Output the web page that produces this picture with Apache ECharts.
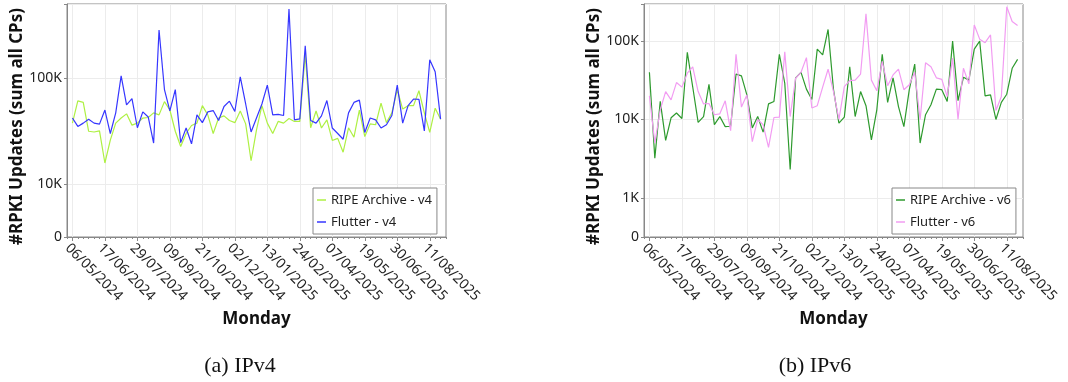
<!DOCTYPE html>
<html>
<head>
<meta charset="utf-8">
<title>RPKI updates per week</title>
<script src="https://cdn.jsdelivr.net/npm/echarts@6/dist/echarts.min.js"></script>
<style>
  html, body { margin: 0; padding: 0; background: #fff; }
  #chart { width: 1068px; height: 382px; }
</style>
</head>
<body>
<div id="chart"></div>
<script>
// Weekly totals of RPKI updates (sum over all collector peers), one value per Monday.
const START_MONDAY = '2024-05-06';
const WEEK_COUNT = 69;

const ripeV4 = [
  37600, 61000, 59000, 31500, 31000, 31800, 15800, 26000, 37600, 42000,
  46000, 36000, 37600, 42000, 42500, 47000, 45000, 60000, 50000, 31500,
  22600, 30000, 35700, 37600, 55000, 45000, 30000, 42000, 44000, 39800,
  38000, 49000, 37000, 16600, 32500, 55000, 37600, 30000, 39000, 37600,
  41600, 39000, 39000, 169000, 34000, 49000, 33800, 40400, 25800, 27000,
  20000, 34000, 27700, 50000, 28100, 37000, 36300, 58000, 38000, 47000,
  78000, 51000, 55000, 55000, 76000, 47000, 30700, 52000, 41000
];
const flutterV4 = [
  42000, 35000, 37600, 41000, 37600, 36800, 50000, 30000, 47000, 105000,
  56000, 64000, 34000, 48000, 43000, 24400, 285000, 78000, 49000, 78000,
  24600, 33800, 24000, 45000, 38000, 48000, 49400, 39800, 54000, 60600,
  48400, 103000, 57000, 31000, 42000, 57000, 86000, 45000, 45400, 44400,
  450000, 40400, 41300, 202000, 39800, 37600, 44000, 61500, 33800, 30000,
  26500, 47000, 59000, 62000, 30700, 42000, 40400, 33800, 36300, 44400,
  86000, 37600, 55000, 63500, 63000, 31800, 149000, 115000, 41000
];
const ripeV6 = [
  40000, 3200, 17000, 5400, 10500, 12100, 10300, 72000, 26000, 9200,
  10900, 28000, 8600, 10900, 8100, 8200, 38000, 36000, 20600, 7800,
  10900, 6900, 15800, 17000, 68000, 29000, 2300, 34000, 40000, 24400,
  18000, 79000, 66600, 141000, 24000, 9000, 10700, 47000, 10900, 22700,
  15000, 5500, 13300, 68000, 16500, 34000, 14600, 8100, 24000, 51000,
  5000, 11500, 15400, 24400, 24000, 17000, 100000, 17400, 34600, 31800,
  79000, 100000, 20000, 20600, 10000, 16500, 21000, 45000, 58500
];
const flutterV6 = [
  20000, 5000, 13300, 22700, 17800, 29600, 25900, 39000, 47000, 22700,
  15800, 16000, 11500, 11800, 17300, 7200, 68000, 14400, 20600, 5200,
  10000, 8600, 4400, 10600, 10700, 73000, 10900, 33600, 40000, 61600,
  14000, 15000, 25900, 43800, 22700, 10000, 26300, 31400, 31800, 38000,
  223000, 31800, 23200, 55000, 27000, 37000, 44000, 24000, 27700, 40000,
  10000, 53000, 47000, 34000, 32500, 19600, 60600, 10100, 45000, 28500,
  161000, 106000, 95600, 120000, 13000, 19600, 275000, 178000, 158000
];

// Dates are labelled every six weeks.
const LABEL_EVERY = 6;

// Log-axis extents; the bottom of each axis is printed as "0".
const V4_MIN = Math.pow(10, 3.5), V4_MAX = Math.pow(10, 5.7);
const V6_MIN = Math.pow(10, 2.5), V6_MAX = Math.pow(10, 5.474);

const FONT = 'Noto Sans';

function mondays(start, n) {
  const out = [];
  const t0 = Date.parse(start + 'T00:00:00Z');
  for (let i = 0; i < n; i++) {
    const d = new Date(t0 + i * 7 * 86400000);
    const dd = String(d.getUTCDate()).padStart(2, '0');
    const mm = String(d.getUTCMonth() + 1).padStart(2, '0');
    out.push(dd + '/' + mm + '/' + d.getUTCFullYear());
  }
  return out;
}

const weeks = mondays(START_MONDAY, WEEK_COUNT);
// An empty slot on each side keeps the first and last week off the frame.
const categories = [''].concat(weeks, ['']);
const padded = arr => [null].concat(arr, [null]);
const isLabelled = idx => idx >= 1 && idx <= WEEK_COUNT && (idx - 1) % LABEL_EVERY === 0;

function yLabel(v, min, max) {
  if (v <= min * 1.001) return '0';
  if (v >= max * 0.999) return '';
  return Math.round(v / 1000) + 'K';
}

function xAxes(gridIndex) {
  return [{
    type: 'category',
    gridIndex,
    data: categories,
    boundaryGap: false,
    name: 'Monday',
    nameLocation: 'middle',
    nameGap: 74,
    nameTextStyle: { fontFamily: FONT, fontSize: 17, fontWeight: 'bold', color: '#111' },
    axisLine: { lineStyle: { color: '#888' } },
    axisTick: { show: true, interval: 0, length: 2, lineStyle: { color: '#888' } },
    axisLabel: {
      interval: (idx) => isLabelled(idx),
      rotate: -45,
      margin: 4,
      verticalAlign: 'top',
      fontFamily: FONT,
      fontSize: 14,
      color: '#222'
    },
    splitLine: { show: true, interval: (idx) => isLabelled(idx), lineStyle: { color: '#ececec' } }
  }, {
    // longer ticks under the labelled weeks
    type: 'category',
    gridIndex,
    data: categories,
    boundaryGap: false,
    position: 'bottom',
    axisLine: { show: false },
    axisTick: { show: true, interval: (idx) => isLabelled(idx), length: 4, lineStyle: { color: '#888' } },
    axisLabel: { show: false },
    splitLine: { show: false }
  }];
}

function yAxis(gridIndex, min, max) {
  return {
    type: 'log',
    logBase: 10,
    gridIndex,
    min,
    max,
    name: '#RPKI Updates (sum all CPs)',
    nameLocation: 'middle',
    nameGap: 37,
    nameTextStyle: { fontFamily: FONT, fontSize: 17, fontWeight: 'bold', color: '#111', padding: [0, 12, 0, 0] },
    axisLine: { show: true, lineStyle: { color: '#888' } },
    axisTick: { show: true, length: 3, lineStyle: { color: '#888' } },
    axisLabel: {
      fontFamily: FONT,
      fontSize: 14,
      color: '#222',
      margin: 5,
      formatter: (v) => yLabel(v, min, max)
    },
    splitLine: { show: true, lineStyle: { color: '#ececec' } }
  };
}

function lineSeries(name, values, color, axisIndex) {
  return {
    name,
    type: 'line',
    xAxisIndex: axisIndex * 2,
    yAxisIndex: axisIndex,
    data: padded(values),
    color,
    symbol: 'none',
    showSymbol: false,
    lineStyle: { width: 1.2, color },
    emphasis: { disabled: true },
    animation: false
  };
}

function legendBox(left, names) {
  return {
    data: names,
    orient: 'vertical',
    left,
    top: 188,
    padding: [4, 5, 4, 4],
    itemGap: 6,
    itemWidth: 9,
    itemHeight: 1.5,
    icon: 'rect',
    borderColor: '#888',
    borderWidth: 1,
    backgroundColor: '#fff',
    textStyle: { fontFamily: FONT, fontSize: 13, color: '#222', lineHeight: 16 }
  };
}

const chart = echarts.init(document.getElementById('chart'), null, { renderer: 'canvas' });

const gridBase = { top: 4, width: 379, height: 233, show: true, borderColor: '#888', borderWidth: 1, containLabel: false, outerBoundsMode: 'none' };

chart.setOption({
  backgroundColor: '#fff',
  animation: false,
  grid: [
    Object.assign({ left: 67 }, gridBase),
    Object.assign({ left: 644 }, gridBase)
  ],
  xAxis: xAxes(0).concat(xAxes(1)),
  yAxis: [yAxis(0, V4_MIN, V4_MAX), yAxis(1, V6_MIN, V6_MAX)],
  legend: [
    legendBox(313, ['RIPE Archive - v4', 'Flutter - v4']),
    legendBox(892, ['RIPE Archive - v6', 'Flutter - v6'])
  ],
  series: [
    lineSeries('RIPE Archive - v4', ripeV4, '#aef043', 0),
    lineSeries('Flutter - v4', flutterV4, '#3636ff', 0),
    lineSeries('RIPE Archive - v6', ripeV6, '#2e9a2e', 1),
    lineSeries('Flutter - v6', flutterV6, '#f29cf2', 1)
  ],
  graphic: [
    { type: 'text', x: 240, y: 366, style: { text: '(a) IPv4', font: '22px "Liberation Serif"', fill: '#111', textAlign: 'center', textVerticalAlign: 'middle' } },
    { type: 'text', x: 815, y: 366, style: { text: '(b) IPv6', font: '22px "Liberation Serif"', fill: '#111', textAlign: 'center', textVerticalAlign: 'middle' } }
  ]
});
</script>
</body>
</html>
